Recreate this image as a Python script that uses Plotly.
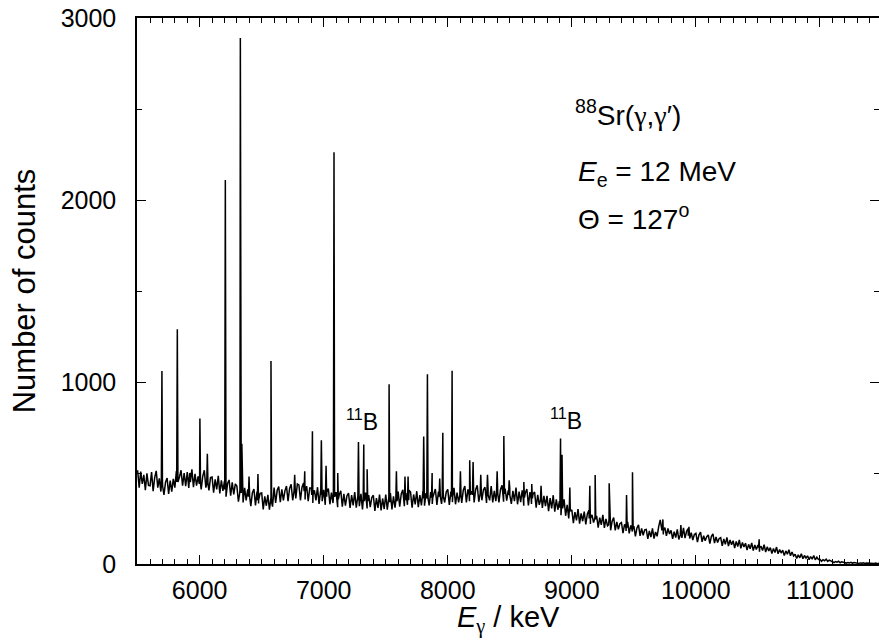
import plotly.graph_objects as go

# ---- data ----
bg_start_kev = 5500
bg_step_kev = 12.5
bg_counts = [
    515, 420, 508, 440, 490, 405, 498, 432,   # 5500
    430, 505, 400, 475, 512, 420, 470, 398,   # 5600
    465, 380, 450, 472, 385, 458, 398, 468,   # 5700
    420, 510, 540, 478, 515, 430, 500, 428,   # 5800
    505, 418, 488, 520, 422, 495, 430, 482,   # 5900
    495, 410, 482, 515, 420, 490, 405, 475,   # 6000
    478, 392, 465, 410, 485, 388, 460, 402,   # 6100
    455, 370, 442, 462, 375, 448, 382, 440,   # 6200
    428, 342, 410, 435, 338, 418, 350, 410,   # 6300
    408, 318, 392, 412, 322, 398, 332, 388,   # 6400
    390, 300, 372, 320, 380, 298, 365, 315,   # 6500
    420, 335, 405, 425, 340, 410, 350, 402,   # 6600
    428, 345, 415, 438, 350, 420, 360, 440,   # 6700
    435, 350, 422, 445, 355, 428, 345, 418,   # 6800
    418, 335, 405, 350, 422, 330, 400, 345,   # 6900
    408, 325, 395, 415, 328, 392, 335, 388,   # 7000
    395, 312, 380, 402, 315, 385, 320, 375,   # 7100
    390, 308, 378, 322, 395, 310, 372, 318,   # 7200
    385, 300, 372, 392, 305, 378, 312, 365,   # 7300
    378, 292, 362, 308, 382, 295, 360, 302,   # 7400
    382, 298, 368, 390, 300, 372, 310, 362,   # 7500
    398, 315, 385, 408, 318, 390, 325, 405,   # 7600
    395, 310, 382, 328, 400, 312, 378, 322,   # 7700
    402, 320, 390, 412, 322, 395, 330, 385,   # 7800
    412, 325, 398, 420, 330, 405, 338, 395,   # 7900
    410, 325, 398, 340, 418, 328, 392, 338,   # 8000
    418, 335, 405, 428, 338, 410, 345, 400,   # 8100
    425, 338, 410, 432, 342, 415, 350, 408,   # 8200
    422, 335, 408, 350, 428, 338, 402, 345,   # 8300
    425, 338, 410, 432, 342, 415, 348, 405,   # 8400
    415, 330, 402, 345, 420, 328, 398, 340,   # 8500
    405, 320, 390, 412, 322, 395, 330, 385,   # 8600
    395, 310, 380, 325, 400, 308, 375, 318,   # 8700
    375, 290, 362, 305, 378, 288, 355, 298,   # 8800
    345, 268, 330, 355, 265, 325, 250, 295,   # 8900
    298, 225, 285, 240, 302, 222, 278, 235,   # 9000
    288, 218, 275, 295, 220, 270, 228, 262,   # 9100
    265, 200, 255, 215, 270, 198, 248, 210,   # 9200
    248, 185, 235, 255, 185, 232, 190, 222,   # 9300
    228, 170, 218, 182, 232, 168, 212, 178,   # 9400
    208, 152, 198, 215, 155, 195, 158, 188,   # 9500
    190, 138, 182, 148, 196, 140, 176, 152,   # 9600
    205, 242, 190, 162, 200, 155, 195, 165,   # 9700
    185, 138, 178, 145, 190, 135, 175, 144,   # 9800
    198, 142, 180, 195, 140, 172, 132, 162,   # 9900
    168, 120, 160, 175, 122, 155, 128, 150,   # 10000
    160, 112, 152, 165, 115, 148, 118, 140,   # 10100
    145, 100, 138, 108, 146, 98, 132, 106,    # 10200
    128, 88, 124, 96, 132, 86, 118, 94,       # 10300
    114, 76, 108, 84, 116, 74, 104, 80,       # 10400
    104, 68, 98, 74, 106, 66, 94, 72,         # 10500
    90, 58, 85, 63, 93, 56, 80, 60,           # 10600
    76, 46, 72, 54, 78, 45, 66, 44,           # 10700
    54, 30, 50, 34, 56, 29, 47, 32,           # 10800
    45, 24, 41, 27, 47, 23, 38, 25,           # 10900
    26, 15, 24, 18, 27, 14, 21, 16,           # 11000
    15, 8, 13, 10, 15, 7, 12, 9,              # 11100
    10, 5, 8, 6, 9, 4, 8, 6,                  # 11200
    7, 3, 6, 4, 7, 3, 5, 4,                   # 11300
    5, 2, 4, 3, 5, 2, 4, 3,                   # 11400
]

peak_energy_kev = [
    5696, 5820, 5920, 6002, 6062, 6207, 6328, 6340, 6398, 6470, 6575,
    6766, 6847, 6909, 6981, 7019, 7083, 7113, 7280, 7323, 7350, 7527,
    7586, 7655, 7680, 7806, 7836, 7874, 7935, 7960, 8035, 8102, 8177,
    8204, 8266, 8320, 8398, 8452, 8495, 8613, 8677, 8752, 8909, 8921,
    8984, 9145, 9188, 9301, 9441, 9489, 9734, 9879, 9944, 10510,
]
peak_counts = [
    1060, 1290, 500, 800, 605, 2110, 2890, 660, 480, 494, 1115,
    490, 510, 730, 680, 540, 2262, 500, 670, 656, 520, 987,
    510, 480, 480, 700, 1042, 500, 470, 721, 1062, 510, 570,
    560, 490, 490, 510, 703, 460, 450, 440, 430, 689, 600,
    420, 430, 489, 443, 379, 504, 245, 214, 205, 136,
]
peak_base_counts = [
    430, 450, 450, 440, 440, 410, 390, 390, 370, 350, 340,
    400, 400, 380, 380, 370, 370, 355, 350, 345, 345, 340,
    345, 350, 350, 360, 360, 365, 370, 370, 370, 375, 380,
    380, 385, 380, 385, 385, 380, 365, 360, 350, 310, 305,
    290, 250, 245, 215, 200, 190, 185, 160, 155, 90,
]

# ---- build the spectrum polyline ----
flank_kev = 5
bg_energy = [bg_start_kev + i * bg_step_kev for i in range(len(bg_counts))]
pts = list(zip(bg_energy, bg_counts))
for e, h, b in zip(peak_energy_kev, peak_counts, peak_base_counts):
    pts += [(e - flank_kev, b), (e, h), (e + flank_kev, b)]
pts.sort(key=lambda p: p[0])
xs = [p[0] for p in pts]
ys = [p[1] for p in pts]

FONT = "Liberation Sans, Arial, Helvetica, sans-serif"
GAMMA = '<span style="font-family:Liberation Serif, Times New Roman, serif">γ</span>'

fig = go.Figure()
fig.add_trace(go.Scatter(x=xs, y=ys, mode="lines",
                         line=dict(color="black", width=1.5),
                         hoverinfo="skip"))

axis_common = dict(
    showline=True, linecolor="black", linewidth=1.5, mirror="ticks",
    ticks="inside", tickcolor="black", tickwidth=1, ticklen=9,
    showgrid=False, zeroline=False, automargin=False,
    tickfont=dict(family=FONT, size=25, color="black"),
    tickformat="d",
)

fig.update_layout(
    width=879, height=641,
    margin=dict(l=137, r=0, t=18, b=77),
    plot_bgcolor="white", paper_bgcolor="white",
    showlegend=False,
    font=dict(family=FONT, color="black"),
    xaxis=dict(
        range=[5495, 11476], tick0=0, dtick=1000,
        minor=dict(dtick=100, ticks="inside", ticklen=5, tickcolor="black", tickwidth=1),
        ticklabelstandoff=3,
        **axis_common,
    ),
    yaxis=dict(
        range=[0, 3000], tick0=0, dtick=1000,
        minor=dict(dtick=500, ticks="inside", ticklen=5, tickcolor="black", tickwidth=1),
        title=dict(text="Number of counts", font=dict(family=FONT, size=31), standoff=16),
        ticklabelstandoff=14,
        **axis_common,
    ),
)

# x-axis title (placed as a paper annotation for exact vertical position)
fig.add_annotation(x=0.5, y=-0.101, xref="paper", yref="paper", xanchor="center", yanchor="middle",
                   text="<i>E</i><sub>" + GAMMA + "</sub> / keV", showarrow=False,
                   font=dict(family=FONT, size=29, color="black"))

ann_font = dict(family=FONT, size=28, color="black")
fig.add_annotation(x=9009, y=2480, xref="x", yref="y", xanchor="left", yanchor="middle",
                   text="<sup>88</sup>Sr(" + GAMMA + "," + GAMMA + "′)", showarrow=False, font=ann_font)
fig.add_annotation(x=9033, y=2145, xref="x", yref="y", xanchor="left", yanchor="middle",
                   text="<i>E</i><sub>e</sub> = 12 MeV", showarrow=False, font=ann_font)
fig.add_annotation(x=9034, y=1907, xref="x", yref="y", xanchor="left", yanchor="middle",
                   text="Θ = 127<sup>o</sup>", showarrow=False, font=ann_font)
b_font = dict(family=FONT, size=23, color="black")
fig.add_annotation(x=7164, y=792, xref="x", yref="y", xanchor="left", yanchor="middle",
                   text="<sup>11</sup>B", showarrow=False, font=b_font)
fig.add_annotation(x=8808, y=796, xref="x", yref="y", xanchor="left", yanchor="middle",
                   text="<sup>11</sup>B", showarrow=False, font=b_font)

fig.write_html("out.html",
               config={"displayModeBar": False},
               post_script="document.body.style.margin='0px';document.body.style.padding='0px';")
